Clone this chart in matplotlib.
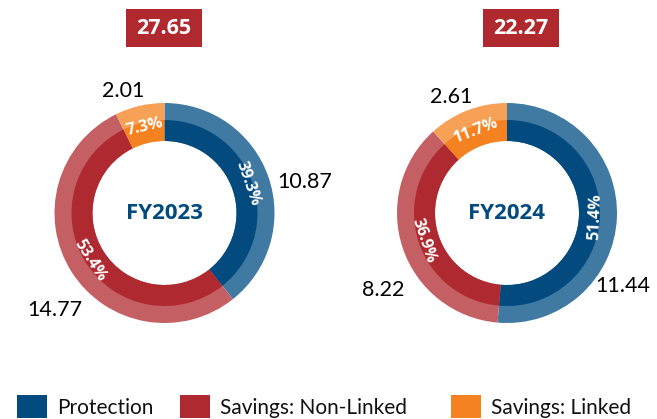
import numpy as np
import matplotlib
matplotlib.use("Agg")
import matplotlib.pyplot as plt
from matplotlib.patches import Rectangle

# Data
categories = ["Protection", "Savings: Non-Linked", "Savings: Linked"]
years = ["FY2023", "FY2024"]
totals = ["27.65", "22.27"]
values_2023 = [10.87, 14.77, 2.01]
values_2024 = [11.44, 8.22, 2.61]
pct_2023 = [39.3, 53.4, 7.3]
pct_2024 = [51.4, 36.9, 11.7]

dark_colors = ["#034A7F", "#AF2A30", "#F58220"]
light_colors = ["#4079A2", "#C45F64", "#F7A157"]

# layout (pixel coords, y up)
W, H = 657, 419
centers = [(164.5, H - 213), (507, H - 213)]
R_OUT, R_MID, R_IN = 110, 93, 72
# value label offsets from donut centre
val_offsets = [
    [(140, 31), (-110, -97), (-41, 122)],
    [(116, -73), (-124, -77), (-56, 116)],
]
box_centers = [(164, H - 28), (521, H - 28)]

plt.rcParams["font.family"] = ["Lato", "DejaVu Sans"]
bold_font = ["Open Sans", "DejaVu Sans"]

fig = plt.figure(figsize=(W / 100, H / 100), dpi=100)
ax = fig.add_axes([0, 0, 1, 1])
ax.set_xlim(0, W)
ax.set_ylim(0, H)
ax.set_aspect("equal")
ax.axis("off")

all_vals = [values_2023, values_2024]
all_pcts = [pct_2023, pct_2024]

for i, (cx, cy) in enumerate(centers):
    vals = all_vals[i]
    pcts = all_pcts[i]
    ax.pie(vals, colors=light_colors, radius=R_OUT, center=(cx, cy),
           startangle=90, counterclock=False, frame=True,
           wedgeprops=dict(width=R_OUT - R_IN, linewidth=0))
    ax.pie(vals, colors=dark_colors, radius=R_MID, center=(cx, cy),
           startangle=90, counterclock=False, frame=True,
           wedgeprops=dict(width=R_MID - R_IN, linewidth=0))

    # percent labels along the ring
    total = sum(vals)
    start = 90.0
    for v, p in zip(vals, pcts):
        sweep = 360.0 * v / total
        mid = start - sweep / 2
        start -= sweep
        th = np.deg2rad(mid)
        r = 88
        rot = mid - 90
        while rot > 90:
            rot -= 180
        while rot < -90:
            rot += 180
        ax.text(cx + r * np.cos(th), cy + r * np.sin(th), f"{p}%",
                ha="center", va="center", rotation=rot, rotation_mode="anchor",
                color="white", fontsize=11.5, fontweight="bold", family=bold_font)

    # value labels
    for v, (dx, dy) in zip(vals, val_offsets[i]):
        ax.text(cx + dx, cy + dy, f"{v:.2f}", ha="center", va="center",
                fontsize=15.5, color="black")

    ax.text(cx, cy, years[i], ha="center", va="center", fontsize=16,
            fontweight="bold", color="#034A7F", family=bold_font)

    bx, by = box_centers[i]
    ax.add_patch(Rectangle((bx - 38, by - 19), 76, 38, color="#B0292F", lw=0))
    ax.text(bx, by, totals[i], ha="center", va="center", fontsize=15.5,
            fontweight="bold", color="white", family=bold_font)

ax.set_xlim(0, W)
ax.set_ylim(0, H)

# legend
leg_x = [17, 180, 451]
for x, c, lab in zip(leg_x, dark_colors, categories):
    ax.add_patch(Rectangle((x, 1), 30, 23, color=c, lw=0))
    ax.text(x + 40, 11, lab, ha="left", va="center", fontsize=15, color="#111111")

fig.savefig("out.png", dpi=100)
